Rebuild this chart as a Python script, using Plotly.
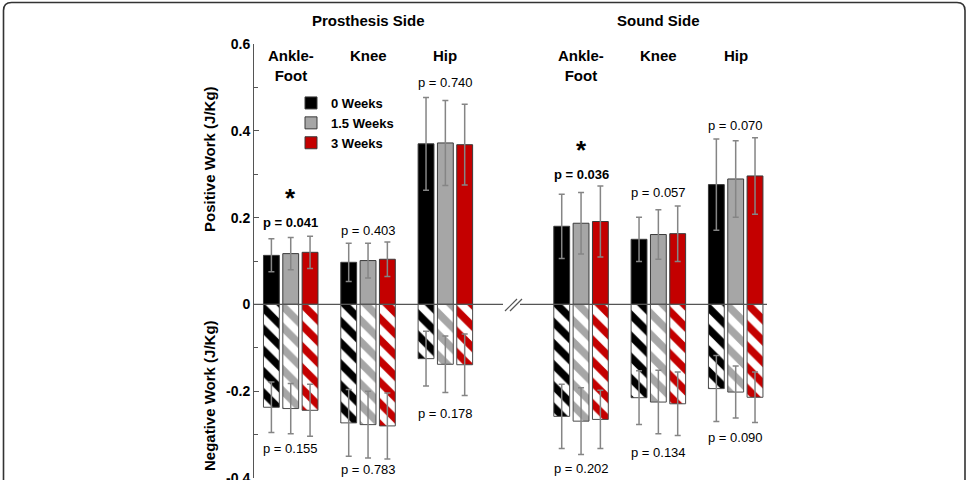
import plotly.graph_objects as go

# ---------------- data ----------------
side_titles = ["Prosthesis Side", "Sound Side"]
joint_labels = ["Ankle-<br>Foot", "Knee", "Hip", "Ankle-<br>Foot", "Knee", "Hip"]
week_labels = ["0 Weeks", "1.5 Weeks", "3 Weeks"]

# order: prosthesis ankle, knee, hip, sound ankle, knee, hip
pos_w0 = [0.113, 0.097, 0.370, 0.180, 0.150, 0.276]
pos_w15 = [0.117, 0.101, 0.372, 0.187, 0.161, 0.289]
pos_w3 = [0.120, 0.104, 0.368, 0.191, 0.163, 0.296]
pos_sd_w0 = [0.038, 0.044, 0.107, 0.074, 0.051, 0.105]
pos_sd_w15 = [0.037, 0.040, 0.098, 0.071, 0.057, 0.088]
pos_sd_w3 = [0.037, 0.040, 0.093, 0.082, 0.064, 0.088]

neg_w0 = [-0.237, -0.273, -0.125, -0.258, -0.215, -0.194]
neg_w15 = [-0.240, -0.277, -0.138, -0.269, -0.225, -0.202]
neg_w3 = [-0.244, -0.280, -0.139, -0.265, -0.229, -0.214]
neg_sd_w0 = [0.058, 0.077, 0.063, 0.074, 0.062, 0.076]
neg_sd_w15 = [0.058, 0.077, 0.065, 0.077, 0.073, 0.060]
neg_sd_w3 = [0.060, 0.076, 0.071, 0.067, 0.073, 0.058]

p_pos = [0.041, 0.403, 0.740, 0.036, 0.057, 0.070]
p_neg = [0.155, 0.783, 0.178, 0.202, 0.134, 0.090]

y_tickvals = [-0.4, -0.2, 0, 0.2, 0.4, 0.6]
y_ticktext = ["-0.4", "-0.2", "0", "0.2", "0.4", "0.6"]

# ---------------- layout helpers ----------------
W, H = 967, 480
L, R, T, B = 254, 200, 44, 2
YMIN, YMAX = -0.4, 0.6
side_gap = 0.755
group_x = [i + (side_gap if i >= 3 else 0) for i in range(6)]
offsets = [-0.25, 0, 0.25]
bar_w = 0.205
XMIN, XMAX = -0.475, 6.16
colors = ["#000000", "#a6a6a6", "#c40000"]
FONT = "Arial, Liberation Sans, sans-serif"

def py2y(py):  # pixel row -> y data value
    return YMAX - (py - T) / (H - T - B) * (YMAX - YMIN)

def px2x(px):
    return XMIN + (px - L) / (W - L - R) * (XMAX - XMIN)

def x2paper(x):
    return (x - XMIN) / (XMAX - XMIN)

def px2paper_x(px):
    return (px - L) / (W - L - R)

def py2paper_y(py):
    return (H - B - py) / (H - T - B)

fig = go.Figure()

pos_sets = [(pos_w0, pos_sd_w0), (pos_w15, pos_sd_w15), (pos_w3, pos_sd_w3)]
neg_sets = [(neg_w0, neg_sd_w0), (neg_w15, neg_sd_w15), (neg_w3, neg_sd_w3)]

for k in range(3):
    xs = [g + offsets[k] for g in group_x]
    vals, sd = pos_sets[k]
    fig.add_trace(go.Bar(
        x=xs, y=vals, width=bar_w, name=week_labels[k],
        marker=dict(color=colors[k], line=dict(color="#3a3a3a", width=1)),
        error_y=dict(type="data", array=sd, color="#858585", thickness=1.5, width=3),
        showlegend=True,
    ))
for k in range(3):
    xs = [g + offsets[k] for g in group_x]
    vals, sd = neg_sets[k]
    fig.add_trace(go.Bar(
        x=xs, y=vals, width=bar_w, name=week_labels[k] + " (neg)",
        marker=dict(color="white", line=dict(color="#4a4a4a", width=1),
                    pattern=dict(shape="\\", fgcolor=colors[k], bgcolor="white",
                                 size=15, solidity=0.5, fgopacity=1, fillmode="overlay")),
        error_y=dict(type="data", array=sd, color="#858585", thickness=1.5, width=3),
        showlegend=False,
    ))

ann = []
# side titles
side_centers = [(group_x[0] + group_x[2]) / 2, (group_x[3] + group_x[5]) / 2]
for s in range(2):
    ann.append(dict(x=x2paper(side_centers[s]), y=py2paper_y(20), xref="paper", yref="paper",
                    xanchor="center", yanchor="middle", text=side_titles[s],
                    showarrow=False, font=dict(family=FONT, size=15, color="black", weight="bold")))
# joint labels
for i in range(6):
    ann.append(dict(x=x2paper(group_x[i]), y=py2paper_y(45), xref="paper", yref="paper",
                    xanchor="center", yanchor="top",
                    text=joint_labels[i], showarrow=False,
                    font=dict(family=FONT, size=15, color="black", weight="bold")))
# p-values; significant ones are bold with an asterisk above
pos_p_py = [222, 230, 82, 174, 192, 125]
neg_p_py = [448, 469, 413, 468, 452, 437]
for i in range(6):
    sig = p_pos[i] < 0.05
    ann.append(dict(x=group_x[i], y=py2y(pos_p_py[i]), xref="x", yref="y",
                    xanchor="center", yanchor="middle", borderpad=0,
                    text=f"p = {p_pos[i]:.3f}", showarrow=False,
                    font=dict(family=FONT, size=13, color="black",
                              weight="bold" if sig else "normal")))
    if sig:
        ann.append(dict(x=group_x[i], y=py2y(pos_p_py[i] - 8), xref="x", yref="y",
                        xanchor="center", yanchor="bottom", borderpad=0,
                        text="*", showarrow=False,
                        font=dict(family=FONT, size=26, color="black", weight="bold")))
    sign = p_neg[i] < 0.05
    ann.append(dict(x=group_x[i], y=py2y(neg_p_py[i]), xref="x", yref="y",
                    xanchor="center", yanchor="middle",
                    text=f"p = {p_neg[i]:.3f}", showarrow=False,
                    font=dict(family=FONT, size=13, color="black",
                              weight="bold" if sign else "normal")))
# axis titles
ann.append(dict(x=px2paper_x(209), y=py2paper_y(159), xref="paper", yref="paper",
                xanchor="center", yanchor="middle",
                text="Positive Work (J/Kg)", textangle=-90, showarrow=False,
                font=dict(family=FONT, size=15, color="black", weight="bold")))
ann.append(dict(x=px2paper_x(209), y=py2paper_y(396), xref="paper", yref="paper",
                xanchor="center", yanchor="middle",
                text="Negative Work (J/Kg)", textangle=-90, showarrow=False,
                font=dict(family=FONT, size=15, color="black", weight="bold")))

shapes = []
# zero line with axis break
shapes.append(dict(type="line", xref="x", yref="y", x0=XMIN, x1=px2x(503), y0=0, y1=0,
                   line=dict(color="#555555", width=1.2)))
shapes.append(dict(type="line", xref="x", yref="y", x0=px2x(520), x1=XMAX, y0=0, y1=0,
                   line=dict(color="#555555", width=1.2)))
for dx in (0, 5):
    shapes.append(dict(type="line", xref="x", yref="y",
                       x0=px2x(505 + dx), y0=py2y(311), x1=px2x(517 + dx), y1=py2y(299),
                       line=dict(color="#555555", width=1.2)))
# rounded outer frame
fx0, fy0, fx1, fy1, r = 3.5, 2.5, 965, 500, 8
pts = [
    ("M", fx0, fy1), ("L", fx0, fy0 + r), ("Q", fx0, fy0, fx0 + r, fy0),
    ("L", fx1 - r, fy0), ("Q", fx1, fy0, fx1, fy0 + r), ("L", fx1, fy1),
]
path = ""
for p in pts:
    if p[0] == "Q":
        path += f"Q{px2paper_x(p[1]):.5f},{py2paper_y(p[2]):.5f} {px2paper_x(p[3]):.5f},{py2paper_y(p[4]):.5f} "
    else:
        path += f"{p[0]}{px2paper_x(p[1]):.5f},{py2paper_y(p[2]):.5f} "
shapes.append(dict(type="path", xref="paper", yref="paper", path=path,
                   line=dict(color="#333333", width=1.6)))

fig.update_layout(
    width=W, height=H,
    margin=dict(l=L, r=R, t=T, b=B, autoexpand=False),
    paper_bgcolor="white", plot_bgcolor="white",
    barmode="overlay",
    xaxis=dict(range=[XMIN, XMAX], visible=False),
    yaxis=dict(range=[YMIN, YMAX], tickvals=y_tickvals, ticktext=y_ticktext, automargin=False,
               showgrid=False, zeroline=False, showline=True, linecolor="#555555", linewidth=1,
               ticks="inside", ticklen=5, tickcolor="#555555", ticklabeloverflow="allow",
               tickfont=dict(family=FONT, size=14, color="black", weight="bold"),
               minor=dict(tickvals=[-0.3, -0.1, 0.1, 0.3, 0.5], ticks="inside", ticklen=4,
                          tickcolor="#555555", showgrid=False)),
    legend=dict(x=px2paper_x(291), y=py2paper_y(88), xanchor="left", yanchor="top",
                bgcolor="rgba(0,0,0,0)", itemwidth=30, tracegroupgap=0,
                font=dict(family=FONT, size=13, color="black", weight="bold")),
    annotations=ann, shapes=shapes,
    showlegend=True,
)

fig.write_html("out.html")
